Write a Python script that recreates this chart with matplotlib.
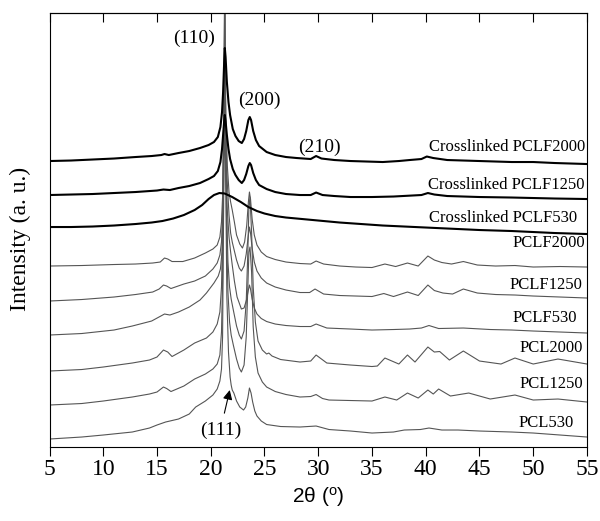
import matplotlib
matplotlib.use("Agg")
import matplotlib.pyplot as plt

plt.rcParams['font.family'] = ['Liberation Serif', 'DejaVu Serif']
plt.rcParams['mathtext.fontset'] = 'custom'
plt.rcParams['mathtext.rm'] = 'Liberation Sans'

# 2theta (deg) and intensity (a.u., already offset)
xl_2000_x = [5, 7, 9, 11, 13, 14.5, 15.4, 15.7, 16.1, 17, 18, 19, 19.8, 20.3, 20.66, 20.9,
             21.05, 21.15, 21.25, 21.31, 21.38, 21.5, 21.65, 21.8, 22.05, 22.3, 22.6, 22.89,
             23.1, 23.3, 23.5, 23.63, 23.75, 23.95, 24.2, 24.5, 25.2, 26, 27, 28, 29.3, 29.8,
             30.3, 31.5, 33, 34.5, 36, 37.5, 38.5, 39.6, 40.1, 40.7, 42, 45, 48, 50, 52, 55]
xl_2000_y = [286, 286.5, 287.5, 288.5, 290, 291, 292, 293, 292, 294, 296, 299, 302, 305, 310, 320,
             335, 355, 385, 399, 390, 365, 345, 332, 318, 311, 306, 304,
             308, 316, 327, 330, 327, 316, 307, 301, 295, 292, 290, 289, 288, 291,
             288.5, 287, 286, 285.5, 285, 286, 287, 288, 290.5, 289, 287, 286, 285, 285, 284, 283]

xl_1250_x = [5, 7, 9, 11, 13, 15, 15.6, 16.2, 17, 18, 19, 19.8, 20.3, 20.66, 20.9,
             21.05, 21.15, 21.25, 21.31, 21.38, 21.5, 21.65, 21.8, 22.05, 22.3, 22.6, 22.89,
             23.1, 23.3, 23.5, 23.63, 23.75, 23.95, 24.2, 24.5, 25.2, 26, 27, 28.3, 29.3, 29.8,
             30.4, 31.5, 33, 35, 37, 39.6, 40.2, 40.8, 42, 45, 48, 50, 52, 55]
xl_1250_y = [252, 252.5, 253, 254, 255, 256.5, 257.5, 257, 259, 261, 264, 268, 271, 276, 285,
             298, 312, 326, 332, 326, 312, 298, 288, 278, 272, 267, 264,
             267, 273, 281, 284, 282, 274, 267, 262, 258, 255, 253, 252, 252, 254.5,
             252, 251, 250, 250, 250.5, 252, 254, 252.5, 251, 250, 249.5, 249, 248.5, 248]

xl_530_x = [5, 7, 9, 11, 13, 14.5, 15.5, 16.5, 17.5, 18.5, 19.2, 19.8, 20.3, 20.8, 21.3, 22,
            22.8, 23.5, 24.3, 25, 26, 27, 28, 30, 32, 34, 36, 38, 40, 42, 45, 48, 50, 52, 55]
xl_530_y = [220, 220, 220.5, 221.5, 223, 224.5, 226, 228.5, 232, 237, 242, 248, 252, 254, 253.5, 250,
            245, 240, 236, 233.5, 231, 229.5, 228.5, 226.5, 224.5, 223, 221.5, 220.5, 219.5, 218.5, 217, 216, 215, 214, 213]

pclf2000_x = [5, 8, 11, 13, 14.6, 15.3, 15.7, 16.0, 16.4, 17.4, 18.5, 19.5, 20.2, 20.6, 20.85,
              21.0, 21.1, 21.2, 21.3, 21.4, 21.55, 21.7, 21.85, 22.0, 22.2, 22.4, 22.7, 22.95,
              23.15, 23.35, 23.5, 23.6, 23.7, 23.85, 24.05, 24.3, 24.7, 25.2, 26, 27, 28.3, 29.3,
              29.8, 30.5, 32, 33.5, 35, 36.2, 37.2, 38.3, 39.3, 40.2, 40.8, 41.5, 42.4, 43.5,
              44.8, 46.5, 48.3, 50, 52.5, 55]
pclf2000_y = [181, 181.5, 182.5, 183, 184, 185, 189, 188, 185.5, 185.5, 189, 194, 198, 202, 210,
              225, 250, 320, 392, 330, 280, 255, 245, 237, 225, 212, 203, 199,
              205, 222, 245, 255, 248, 228, 212, 202, 195, 190.5, 187.5, 185, 183.5, 183,
              186, 183, 181, 180, 179.5, 183, 180.5, 184, 181, 191, 187, 184.5, 183, 185.5,
              182, 181, 181.5, 180, 180.5, 180]

pclf1250_x = [5, 8, 11, 13, 14.6, 15.2, 15.6, 15.9, 16.3, 17.5, 18.5, 19.5, 20.2, 20.6, 20.85,
              21.0, 21.1, 21.2, 21.3, 21.4, 21.55, 21.7, 21.85, 22.0, 22.2, 22.4, 22.65, 22.85,
              23.1, 23.3, 23.5, 23.6, 23.7, 23.85, 24.05, 24.3, 24.7, 25.2, 26, 27, 28.3, 29.2,
              29.7, 30.5, 32, 33.5, 35, 36.1, 37, 38.3, 39.3, 40.2, 40.8, 41.6, 42.5, 43.5,
              44.8, 46.5, 48.3, 50, 52.5, 55]
pclf1250_y = [146, 147.5, 150, 152.5, 155, 158, 162, 161, 158.5, 163, 166, 171, 178, 184, 192,
              205, 235, 300, 372, 300, 262, 232, 214, 205, 196, 187, 179, 176,
              181, 193, 212, 220, 214, 199, 185, 176, 169, 164, 160, 157, 154.5, 154.5,
              158, 153, 151.5, 151, 150.5, 153.5, 150.5, 155, 151.5, 162, 156.5, 154, 153, 158,
              154, 152.5, 152, 151, 150, 149]

pclf530_x = [5, 8, 11, 12.7, 14.5, 15.7, 16.2, 17, 18, 19, 19.6, 20.3, 20.7, 20.9,
             21.05, 21.15, 21.25, 21.32, 21.4, 21.55, 21.7, 21.85, 22.0, 22.2, 22.45, 22.85,
             23.1, 23.35, 23.5, 23.6, 23.7, 23.85, 24.05, 24.3, 24.7, 25.2, 26, 27, 28.3, 29.3,
             29.8, 30.8, 33, 35, 37, 38.5, 39.6, 40.3, 41.2, 43.5, 46, 48, 50, 52.5, 55]
pclf530_y = [112, 113.5, 117, 121, 126, 133, 132, 135, 140, 147, 154, 164, 171, 178,
             195, 230, 290, 317, 270, 235, 210, 195, 182, 166, 150, 138,
             139, 148, 157, 162, 158, 148, 139, 133, 128.5, 125.5, 123, 121.5, 120.5, 120.5,
             123, 119, 118, 117, 117.5, 118, 119, 121.5, 118.5, 119, 117.5, 117, 116, 115, 114]

pcl2000_x = [5, 8, 10, 12.7, 14.3, 15.0, 15.6, 16.0, 16.4, 17.5, 18.5, 19.6, 20.2, 20.6, 20.85,
             21.0, 21.1, 21.2, 21.3, 21.4, 21.5, 21.6, 21.75, 21.9, 22.1, 22.4, 22.65, 22.85,
             23.1, 23.3, 23.45, 23.55, 23.65, 23.8, 23.95, 24.15, 24.4, 24.8, 25.2, 25.4, 25.7,
             26.5, 28.3, 29.3, 29.8, 30.3, 30.8, 33, 35, 35.5, 36.2, 37.5, 38.3, 39.0, 40.2,
             40.8, 41.3, 42.2, 43.5, 45, 47, 48.3, 50, 52.3, 55]
pcl2000_y = [76, 77.5, 80, 84, 87, 90, 97, 95, 90.5, 97, 104, 109, 115, 123, 135,
             160, 210, 330, 470, 320, 230, 185, 160, 148, 137, 121, 112, 108,
             116, 145, 195, 240, 250, 215, 160, 125, 106, 97, 93, 94, 91,
             87.5, 85, 86, 92, 88, 84, 82, 80.5, 81, 89, 83, 92, 85, 100,
             95, 95.5, 87, 96, 86, 83, 89, 83, 88, 83]

pcl1250_x = [5, 8, 10, 12.7, 14.3, 15.0, 15.6, 15.9, 16.3, 17.5, 18.5, 19.5, 20.2, 20.6, 20.85,
             21.0, 21.1, 21.2, 21.3, 21.4, 21.5, 21.6, 21.75, 21.9, 22.1, 22.4, 22.65, 22.85,
             23.1, 23.3, 23.45, 23.55, 23.65, 23.8, 23.95, 24.15, 24.4, 24.8, 25.2, 26, 27,
             28.3, 29.3, 29.8, 30.4, 31, 33, 35, 36.2, 37.3, 38.3, 39.3, 40.2, 40.7, 41.2,
             42.3, 44, 46, 48.3, 50, 52.3, 55]
pcl1250_y = [42, 43.5, 46, 50, 53, 55, 60, 58.5, 55.5, 61, 68, 73, 78, 83, 92,
             115, 165, 300, 460, 300, 200, 155, 125, 112, 102, 88, 79, 75,
             82, 110, 160, 195, 200, 175, 120, 90, 74, 65, 60, 55.5, 52.5,
             50, 50.5, 52.5, 48.5, 47, 46.5, 46, 50, 47, 54, 49, 57, 53, 58,
             51, 54, 48, 52, 47, 48, 45]

pcl530_x = [5, 8, 10, 12.7, 14.3, 15.0, 15.8, 17, 18, 18.6, 19.5, 20.2, 20.6, 20.85, 21.0,
            21.1, 21.2, 21.3, 21.4, 21.5, 21.65, 21.8, 21.9, 22.0, 22.15, 22.4, 22.7, 23.05,
            23.25, 23.45, 23.6, 23.75, 23.9, 24.1, 24.3, 24.7, 25.2, 26.5, 28.3, 29.8, 31,
            33, 35, 37, 38, 39.5, 40.3, 41.5, 43, 45, 48, 50, 52.5, 55]
pcl530_y = [8, 10, 12, 15, 19, 22, 25, 28, 33, 40, 46, 52, 58, 66, 78,
            110, 240, 440, 260, 150, 95, 70, 62, 57, 54, 46, 40, 37,
            40, 49, 59, 54, 45, 36, 31, 26, 22.5, 20.5, 20, 21, 17.5,
            16, 14, 15, 17, 17.5, 19, 17, 17, 16, 15, 14, 12, 10]

names = ['Crosslinked PCLF2000', 'Crosslinked PCLF1250', 'Crosslinked PCLF530',
         'PCLF2000', 'PCLF1250', 'PCLF530', 'PCL2000', 'PCL1250', 'PCL530']
label_x = [54.8, 54.8, 54.1, 54.8, 54.6, 54.1, 54.6, 54.6, 53.8]
label_y = [300, 262, 229, 204, 162, 129, 99, 63, 24]

fig = plt.figure(figsize=(6, 5.21), dpi=100)
ax = fig.add_axes([0.0825, 0.142, 0.8958, 0.833])

thick = [(xl_2000_x, xl_2000_y), (xl_1250_x, xl_1250_y), (xl_530_x, xl_530_y)]
thin = [(pclf2000_x, pclf2000_y), (pclf1250_x, pclf1250_y), (pclf530_x, pclf530_y),
        (pcl2000_x, pcl2000_y), (pcl1250_x, pcl1250_y), (pcl530_x, pcl530_y)]

for x, y in thin:
    ax.plot(x, y, color='#555555', lw=0.8)
for x, y in thick:
    ax.plot(x, y, color='black', lw=1.5)

for name, lx, ly in zip(names, label_x, label_y):
    ax.text(lx, ly, name, ha='right', va='center', fontsize=12)

ax.text(18.45, 409, '(110)', ha='center', va='center', fontsize=14)
ax.text(24.56, 347, '(200)', ha='center', va='center', fontsize=14)
ax.text(30.14, 300, '(210)', ha='center', va='center', fontsize=14)
ax.annotate('(111)', xy=(21.77, 57), xytext=(20.9, 17), ha='center', va='center',
            fontsize=14,
            arrowprops=dict(arrowstyle='-|>', color='black', lw=0.8,
                            mutation_scale=14, shrinkA=4, shrinkB=0))

ax.set_xlim(5, 55)
ax.set_ylim(0, 434)
ax.set_xticks(range(5, 56, 5))
ax.set_yticks([])
ax.tick_params(axis='x', which='both', direction='out', length=6.5, labelsize=17,
               top=False, pad=2)
secax = ax.secondary_xaxis('top')
secax.set_xticks(range(5, 56, 5))
secax.tick_params(direction='in', length=6.5, labeltop=False)

ax.set_ylabel('Intensity (a. u.)', fontsize=17)
ax.yaxis.set_label_coords(-0.035, 0.48)
ax.set_xlabel(r'2θ ($\mathregular{^{o}}$)', fontsize=15, family='Liberation Sans',
              labelpad=4)

fig.savefig('out.png', dpi=100)
